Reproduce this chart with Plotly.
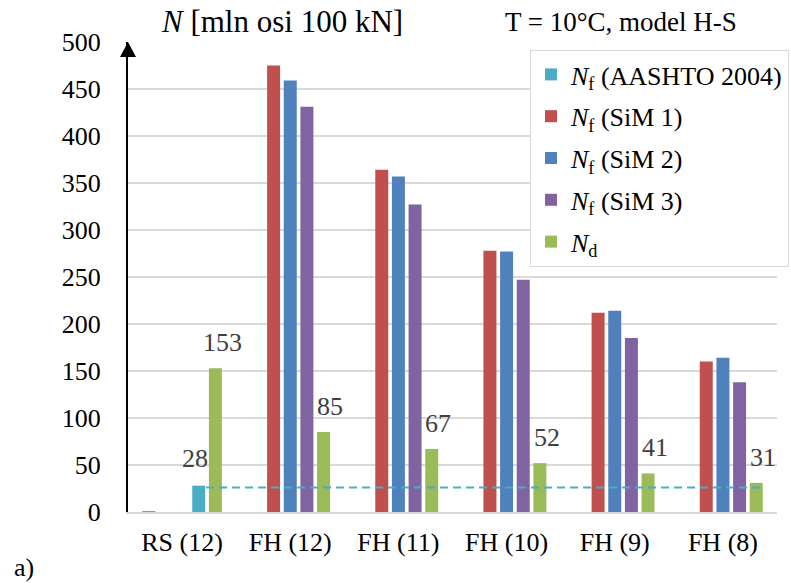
import plotly.graph_objects as go

# ---- data -------------------------------------------------------------
categories = ["RS (12)", "FH (12)", "FH (11)", "FH (10)", "FH (9)", "FH (8)"]

nf_aashto = [1, None, None, None, None, None]
nf_sim1 = [None, 475, 364, 278, 212, 160]
nf_sim2 = [None, 459, 357, 277, 214, 164]
nf_sim3 = [None, 431, 327, 247, 185, 138]
n_d = [153, 85, 67, 52, 41, 31]

# AASHTO 2004 result for RS (12), drawn in the fourth slot of its group
rs_category = ["RS (12)"]
rs_aashto = [28]

aashto_level = 26          # dashed reference level (AASHTO 2004)
y_ticks = [0, 50, 100, 150, 200, 250, 300, 350, 400, 450, 500]

# ---- styling ----------------------------------------------------------
CYAN = "#4BACC6"
RED = "#C0504D"
BLUE = "#4F81BD"
PURPLE = "#8064A2"
GREEN = "#9BBB59"
GRID = "#D9D9D9"
FONT = "Times New Roman, Liberation Serif, serif"
LABEL = "#404040"

W, H = 791, 583
ML, MR, MT, MB = 128, 14, 42, 71
PW, PH = W - ML - MR, H - MT - MB


def px_x(x):
    return (x - ML) / PW


def px_y(y):
    return (H - MB - y) / PH


fig = go.Figure()

series = [
    ("<i>N</i><sub>f</sub> (AASHTO 2004)", nf_aashto, CYAN, "s0"),
    ("<i>N</i><sub>f</sub> (SiM 1)", nf_sim1, RED, "s1"),
    ("<i>N</i><sub>f</sub> (SiM 2)", nf_sim2, BLUE, "s2"),
    ("<i>N</i><sub>f</sub> (SiM 3)", nf_sim3, PURPLE, "s3"),
    ("<i>N</i><sub>d</sub>", n_d, GREEN, "s4"),
]

for i, (name, vals, color, slot) in enumerate(series):
    fig.add_trace(go.Bar(
        x=categories, y=vals, name=name,
        marker=dict(color=color, line=dict(width=0)),
        offsetgroup=slot, legendgroup=f"g{i}",
    ))

fig.add_trace(go.Bar(
    x=rs_category, y=rs_aashto, name="AASHTO RS (12)",
    marker=dict(color=CYAN, line=dict(width=0)),
    offsetgroup="s3", showlegend=False,
))

# value labels above the N_d bars and the AASHTO bar of RS (12)
for cat, v in zip(categories, n_d):
    fig.add_annotation(x=cat, y=v, xref="x", yref="y", text=str(v),
                       showarrow=False, xanchor="center", yanchor="bottom",
                       xshift=40, yshift=9,
                       font=dict(family=FONT, size=26, color=LABEL))
for cat, v in zip(rs_category, rs_aashto):
    fig.add_annotation(x=cat, y=v, xref="x", yref="y", text=str(v),
                       showarrow=False, xanchor="center", yanchor="bottom",
                       xshift=13, yshift=11,
                       font=dict(family=FONT, size=26, color=LABEL))

# dashed AASHTO reference line
fig.add_shape(type="line", xref="x", yref="y",
              x0=0.222, x1=5.37, y0=aashto_level, y1=aashto_level,
              line=dict(color=CYAN, width=2, dash="8px,5px"), layer="above")

# arrow head on top of the value axis
fig.add_shape(type="path", xref="paper", yref="y",
              xsizemode="pixel", ysizemode="pixel",
              xanchor=0, yanchor=y_ticks[-1],
              path="M-8,-15 L8,-15 L0,0 Z",
              fillcolor="black", line=dict(width=0), layer="above")

# titles
fig.add_annotation(x=px_x(281.5), y=px_y(21), xref="paper", yref="paper",
                   text="<i>N</i> [mln osi 100 kN]", showarrow=False,
                   xanchor="center", yanchor="middle",
                   font=dict(family=FONT, size=31, color="black"))
fig.add_annotation(x=px_x(739), y=px_y(22), xref="paper", yref="paper",
                   text="T = 10°C, model H-S", showarrow=False,
                   xanchor="right", yanchor="middle",
                   font=dict(family=FONT, size=27, color="black"))
fig.add_annotation(x=px_x(24), y=px_y(567), xref="paper", yref="paper",
                   text="a)", showarrow=False,
                   xanchor="center", yanchor="middle",
                   font=dict(family=FONT, size=26, color="black"))

fig.update_layout(
    width=W, height=H,
    margin=dict(l=ML, r=MR, t=MT, b=MB, autoexpand=False),
    paper_bgcolor="white", plot_bgcolor="white",
    barmode="group", bargap=0.23, bargroupgap=0.22,
    font=dict(family=FONT, size=26, color="black"),
    showlegend=True,
    legend=dict(
        x=px_x(530), y=px_y(50), xanchor="left", yanchor="top",
        xref="paper", yref="paper",
        bgcolor="white", bordercolor=GRID, borderwidth=1,
        font=dict(family=FONT, size=26, color="black"),
        traceorder="grouped", tracegroupgap=5,
    ),
    xaxis=dict(
        type="category", categoryorder="array", categoryarray=categories,
        range=[-0.5, len(categories) - 0.5],
        showgrid=False, showline=True, linecolor=GRID, linewidth=2,
        ticks="", ticklabelstandoff=6,
        tickfont=dict(family=FONT, size=26, color="black"),
    ),
    yaxis=dict(
        range=[y_ticks[0], y_ticks[-1]], tickvals=y_ticks,
        showgrid=True, gridcolor=GRID, gridwidth=2,
        zeroline=False, showline=True, linecolor="black", linewidth=2,
        ticks="", ticklabelstandoff=20,
        tickfont=dict(family=FONT, size=26, color="black"),
    ),
)

fig.write_html("out.html")
